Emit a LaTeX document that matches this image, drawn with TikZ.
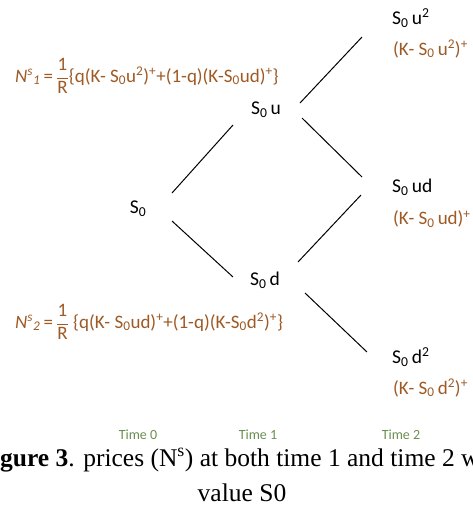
\documentclass[tikz,border=0pt]{standalone}
\usepackage{fontspec}
\setmainfont{Carlito}
\newfontfamily\capfont{Liberation Serif}
\usetikzlibrary{calc}
\definecolor{paybrown}{HTML}{9E5A25}
\definecolor{timegreen}{HTML}{6B8F50}
\newcommand{\Szero}{S\textsubscript{0}}
\begin{document}
\begin{tikzpicture}[x=1pt,y=-1pt,
  lbl/.style={font=\fontsize{19.5}{22}\selectfont, inner sep=0pt, text=black},
  pay/.style={font=\fontsize{19}{22}\selectfont, inner sep=0pt, text=paybrown, anchor=west},
  frm/.style={font=\fontsize{19}{22}\selectfont, inner sep=0pt, text=paybrown, anchor=west},
  tm/.style={font=\fontsize{14}{16}\selectfont, text=timegreen, inner sep=0pt},
  captxt/.style={font=\capfont\fontsize{25.5}{29}\selectfont, inner sep=0pt, text=black},
  edge/.style={draw=black, line width=1pt}]
\useasboundingbox (0,0) rectangle (473,509);
\fill[white] (0,0) rectangle (473,509);

% price nodes
\node[lbl] (s0) at (138,209) {\Szero};
\node[lbl] (su) at (266,110) {\Szero\,u};
\node[lbl] (sd) at (265,280) {\Szero\,d};
\node[lbl, anchor=west] (suu) at (392,18) {\Szero\,u\textsuperscript{2}};
\node[lbl, anchor=west] (sud) at (392,187) {\Szero\,ud};
\node[lbl, anchor=west] (sdd) at (392,357) {\Szero\,d\textsuperscript{2}};

% payoffs
\node[pay] (puu) at (393,49) {(K- \Szero\,u\textsuperscript{2})\textsuperscript{+}};
\node[pay] (pud) at (393,219) {(K- \Szero\,ud)\textsuperscript{+}};
\node[pay] (pdd) at (393,388) {(K- \Szero\,d\textsuperscript{2})\textsuperscript{+}};

% formulas
\node[frm] (n1) at (15,76) {{\itshape N}\textsuperscript{\itshape s}\textsubscript{\itshape 1}\,=\,$\displaystyle\frac{\mbox{1}}{\mbox{R}}$\{q(K- \Szero u\textsuperscript{2})\textsuperscript{+}+(1-q)(K-\Szero ud)\textsuperscript{+}\}};
\node[frm] (n2) at (15,322) {{\itshape N}\textsuperscript{\itshape s}\textsubscript{\itshape 2}\,=\,$\displaystyle\frac{\mbox{1}}{\mbox{R}}$\ \{q(K- \Szero ud)\textsuperscript{+}+(1-q)(K-\Szero d\textsuperscript{2})\textsuperscript{+}\}};

% connectors
\draw[edge] ($(s0)+(34,-16)$) -- ($(su)+(-33,15)$);
\draw[edge] ($(s0)+(34,12)$) -- ($(sd)+(-32,-3)$);
\draw[edge] ($(su)+(34,-7)$) -- ($(suu.west)+(-30,19)$);
\draw[edge] ($(su)+(36,8)$) -- ($(sud.west)+(-30,-10)$);
\draw[edge] ($(sd)+(33,-18)$) -- ($(sud.west)+(-31,8)$);
\draw[edge] ($(sd)+(40,13)$) -- ($(sdd.west)+(-25,-5)$);

% time labels
\node[tm] (t0) at (138,435) {Time 0};
\node[tm] (t1) at (258,435) {Time 1};
\node[tm] (t2) at (401,435) {Time 2};

% caption
\node[captxt, anchor=base west] (c1) at (0,466) {\llap{\textbf{Fi}}\textbf{gure 3}. prices (N\textsuperscript{s}) at both time 1 and time 2 w};
\node[captxt, anchor=base] (c2) at (242,501) {value S0};
\end{tikzpicture}
\end{document}
